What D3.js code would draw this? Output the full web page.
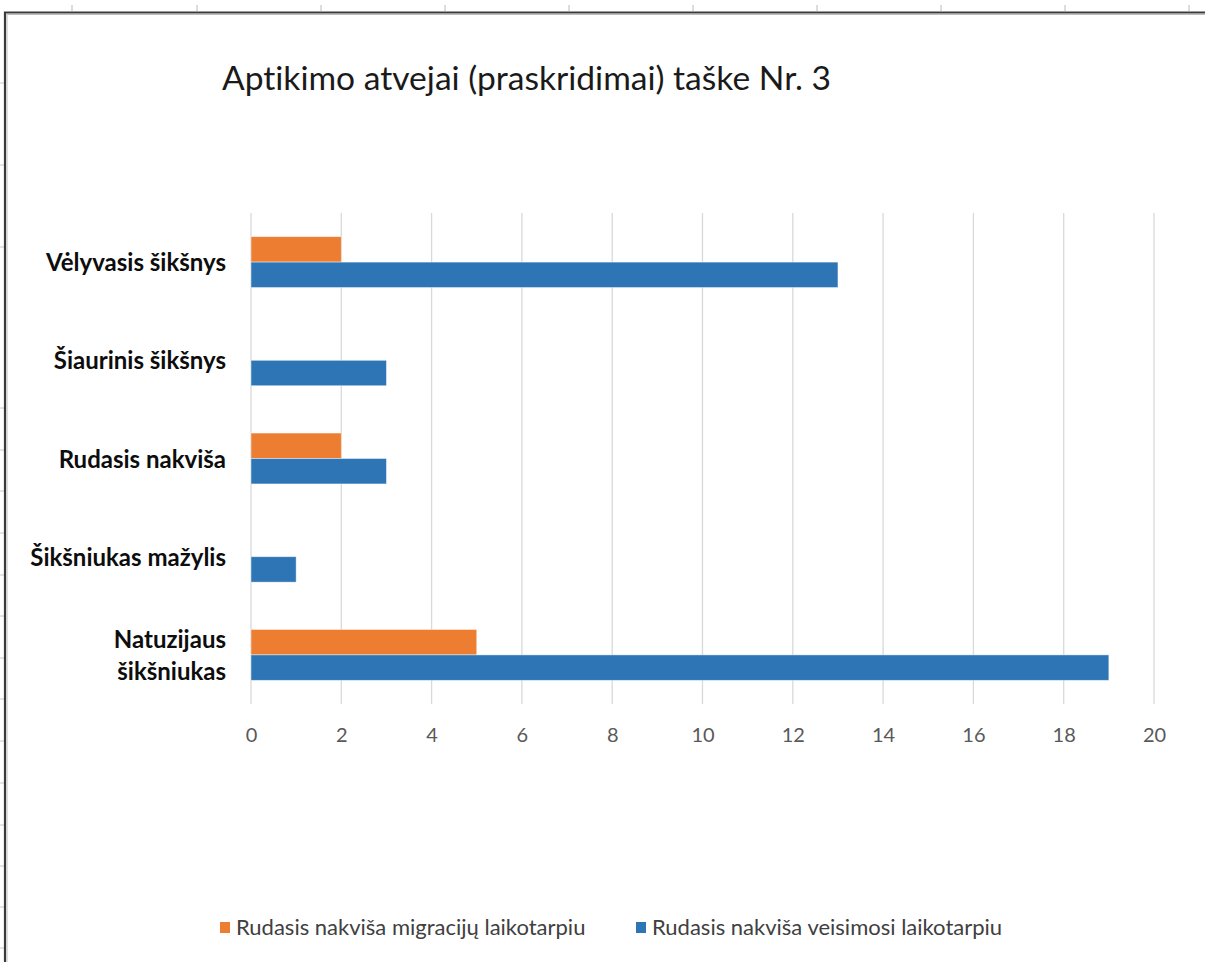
<!DOCTYPE html>
<html>
<head>
<meta charset="utf-8">
<script src="https://cdn.jsdelivr.net/npm/d3@7"></script>
<style>
  html, body { margin: 0; padding: 0; background: #fff; }
  svg { display: block; }
  text { font-family: Lato, "Open Sans", sans-serif; font-variant-ligatures: none; font-feature-settings: "liga" 0; }
</style>
</head>
<body>
<svg id="chart" width="1205" height="962"></svg>
<script>
const title = "Aptikimo atvejai (praskridimai) taške Nr. 3";
const categories = ["Vėlyvasis šikšnys", "Šiaurinis šikšnys", "Rudasis nakviša", "Šikšniukas mažylis", "Natuzijaus šikšniukas"];
const seriesNames = ["Rudasis nakviša migracijų laikotarpiu", "Rudasis nakviša veisimosi laikotarpiu"];
const migracijuValues = [2, 0, 2, 0, 5];
const veisimosiValues = [13, 3, 3, 1, 19];
const xTicks = [0, 2, 4, 6, 8, 10, 12, 14, 16, 18, 20];
const colors = ["#ED7D31", "#2E75B6"];

const svg = d3.select("#chart");

// spreadsheet frame artifacts
const sheetColX = [72, 197, 321, 445, 569, 693, 817, 941, 1065, 1189];
const sheetRowY = [83, 165, 247, 408, 450, 491, 533, 575, 616, 658, 699, 741, 783, 825, 866, 907, 948];
svg.selectAll(".colTick").data(sheetColX).join("line")
  .attr("x1", d => d).attr("x2", d => d).attr("y1", 5).attr("y2", 11)
  .attr("stroke", "#d0d0d0").attr("stroke-width", 1.5);
svg.selectAll(".rowTick").data(sheetRowY).join("line")
  .attr("x1", 0).attr("x2", 4).attr("y1", d => d).attr("y2", d => d)
  .attr("stroke", "#c8c8c8").attr("stroke-width", 1);
svg.append("path").attr("d", "M5,970 L5,12.5 L1210,12.5")
  .attr("fill", "none").attr("stroke", "#3a3a3a").attr("stroke-width", 2.2);
svg.append("path").attr("d", "M7,970 L7,14.5 L1210,14.5")
  .attr("fill", "none").attr("stroke", "#bdbdbd").attr("stroke-width", 1);

// title
svg.append("text").attr("x", 222).attr("y", 90)
  .attr("font-size", 33.6).attr("fill", "#1a1a1a").text(title);

const x = d3.scaleLinear().domain([0, 20]).range([251, 1154]);
const y = d3.scaleBand().domain(categories).range([213, 704]);
const ySub = d3.scaleBand().domain([0, 1]).range([0, y.bandwidth()]).paddingInner(0).paddingOuter(0.93);

// gridlines
svg.append("g").selectAll("line").data(xTicks).join("line")
  .attr("x1", d => x(d)).attr("x2", d => x(d))
  .attr("y1", 213).attr("y2", 704)
  .attr("stroke", "#d9d9d9").attr("stroke-width", 1.3);

// x axis labels
const xAxis = d3.axisBottom(x).tickValues(xTicks).tickSize(0).tickPadding(0).tickFormat(d3.format("d"));
const gx = svg.append("g").attr("transform", "translate(0,742)").call(xAxis);
gx.select(".domain").remove();
gx.selectAll("text").attr("font-family", "Lato, sans-serif").attr("font-size", 20)
  .attr("fill", "#595959").attr("dy", 0);

// bars
const rows = categories.map((c, i) => ({ cat: c, vals: [migracijuValues[i], veisimosiValues[i]] }));
const groups = svg.append("g").selectAll("g").data(rows).join("g")
  .attr("transform", d => `translate(0,${y(d.cat)})`);
groups.selectAll("rect").data(d => d.vals.map((v, s) => ({ v, s })).filter(e => e.v > 0)).join("rect")
  .attr("x", x(0)).attr("y", d => ySub(d.s))
  .attr("width", d => x(d.v) - x(0)).attr("height", ySub.bandwidth())
  .attr("fill", d => colors[d.s])
  .attr("stroke", "#ffffff").attr("stroke-opacity", 0.55).attr("stroke-width", 0.8);

// category labels
const yAxis = d3.axisLeft(y).tickSize(0).tickPadding(0);
const gy = svg.append("g").attr("transform", "translate(226,0)").call(yAxis);
gy.select(".domain").remove();
gy.selectAll("text").attr("font-family", "Lato, sans-serif").attr("font-size", 24)
  .attr("font-weight", "bold").attr("fill", "#0d0d0d")
  .each(function(d) {
    const t = d3.select(this);
    if (d === "Natuzijaus šikšniukas") {
      t.text(null).attr("dy", null);
      t.append("tspan").attr("x", 0).attr("dy", "-0.3em").text("Natuzijaus");
      t.append("tspan").attr("x", 0).attr("dy", "1.35em").text("šikšniukas");
    } else {
      t.attr("dy", "0.38em");
    }
  });

// legend
const legX = [220, 636];
const leg = svg.append("g").selectAll("g").data(seriesNames).join("g")
  .attr("transform", (d, i) => `translate(${legX[i]},922)`);
leg.append("rect").attr("width", 10).attr("height", 11).attr("fill", (d, i) => colors[i]);
leg.append("text").attr("x", 16).attr("y", 13).attr("font-size", 22).attr("fill", "#404040").text(d => d);
</script>
</body>
</html>
